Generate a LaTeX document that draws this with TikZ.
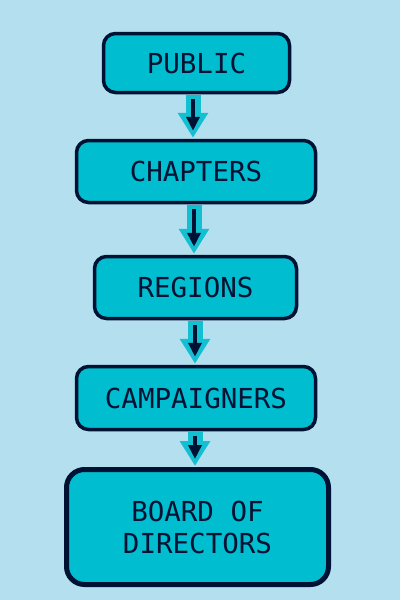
\documentclass[tikz,border=0pt]{standalone}
\usepackage{fontspec}
\setmonofont{DejaVu Sans Mono}
\usetikzlibrary{arrows.meta}
\definecolor{bg}{HTML}{B3DFEE}
\definecolor{boxfill}{HTML}{00BDCF}
\definecolor{ink}{HTML}{001233}
\definecolor{arrcyan}{HTML}{12C0D2}
\tikzset{
  box/.style={draw=ink, fill=boxfill, line width=3.5pt, rounded corners=12pt,
    text=ink, font=\ttfamily\fontsize{27.5}{32}\selectfont, align=center, inner sep=0pt},
  outerarr/.style={draw=arrcyan, line width=15pt, -{Triangle[width=29pt,length=25pt]}},
  innerarr/.style={draw=ink, line width=4pt, -{Triangle[width=13pt,length=14pt]}},
}
\begin{document}
\begin{tikzpicture}[x=1pt,y=-1pt]
\fill[bg] (0,0) rectangle (400,600);
\useasboundingbox (0,0) rectangle (400,600);
\node[box, minimum width=186pt, minimum height=59pt] (pub) at (196.5,63) {PUBLIC};
\node[box, minimum width=239pt, minimum height=62pt] (cha) at (196,171.5) {CHAPTERS};
\node[box, minimum width=202pt, minimum height=62pt] (reg) at (195.5,287.5) {REGIONS};
\node[box, minimum width=239pt, minimum height=63pt] (cam) at (196,398) {CAMPAIGNERS};
\node[box, line width=5pt, rounded corners=18pt, minimum width=262pt, minimum height=115pt] (bod) at (197.5,527) {BOARD OF\\DIRECTORS};
\foreach \a/\b/\x in {pub/cha/193, cha/reg/194, reg/cam/195, cam/bod/195}{
  \coordinate (s) at (\x, 0 |- \a.south);
  \coordinate (e) at (\x, 0 |- \b.north);
  \draw[outerarr] ([yshift=-1pt]s) -- ([yshift=1pt]e);
  \draw[innerarr] ([yshift=-5pt]s) -- ([yshift=8pt]e);
}
\end{tikzpicture}
\end{document}
